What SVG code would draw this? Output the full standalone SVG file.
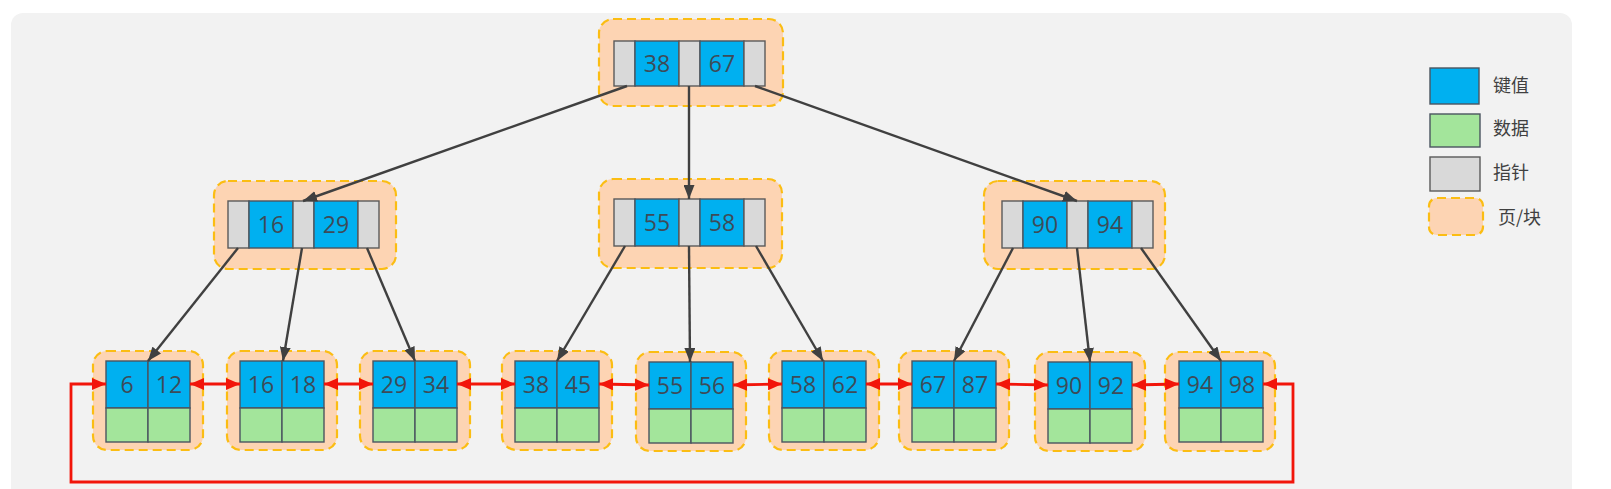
<svg xmlns="http://www.w3.org/2000/svg" width="1611" height="489" viewBox="0 0 1611 489">
<style>
.pg{fill:#fdd4b3;stroke:#fbbd13;stroke-width:2.2;stroke-dasharray:9 5}
.k{fill:#00b0f0;stroke:#4a5560;stroke-width:1.4}
.d{fill:#a3e59b;stroke:#4a5560;stroke-width:1.4}
.p{fill:#d9d9d9;stroke:#5a5a5a;stroke-width:1.4}
.t{font-family:"Open Sans","Noto Sans",sans-serif;font-size:23px;fill:#3d4b58;text-anchor:middle}
.lt{font-family:"Noto Sans CJK SC","Noto Sans",sans-serif;font-size:18px;fill:#404040}
.c{stroke:#404040;stroke-width:2.4;fill:none;marker-end:url(#ah)}
.r{stroke:#f2150a;stroke-width:2.8;fill:none;marker-end:url(#ar);marker-start:url(#ar)}
</style>
<defs>
<marker id="ah" viewBox="0 0 14 11" refX="14" refY="5.5" markerWidth="14" markerHeight="11" orient="auto" markerUnits="userSpaceOnUse"><path d="M0,0 L14,5.5 L0,11 z" fill="#404040"/></marker>
<marker id="ar" viewBox="0 0 14 12" refX="14" refY="6" markerWidth="14" markerHeight="12" orient="auto-start-reverse" markerUnits="userSpaceOnUse"><path d="M0,0 L14,6 L0,12 z" fill="#f2150a"/></marker>
</defs>
<rect width="1611" height="489" fill="#ffffff"/>
<rect x="11" y="13" width="1561" height="500" rx="12" fill="#f2f2f2"/>

<g id="root">
<rect class="pg" x="599" y="19" width="184" height="87" rx="14"/>
<rect class="p" x="614" y="41" width="21" height="45"/>
<rect class="k" x="635" y="41" width="44" height="45"/>
<rect class="p" x="679" y="41" width="21" height="45"/>
<rect class="k" x="700" y="41" width="44" height="45"/>
<rect class="p" x="744" y="41" width="21" height="45"/>
<text class="t" x="657" y="71.5">38</text>
<text class="t" x="722" y="71.5">67</text>
</g>

<g id="mid-left">
<rect class="pg" x="214" y="181" width="182" height="88" rx="14"/>
<rect class="p" x="228" y="201" width="21" height="47"/>
<rect class="k" x="249" y="201" width="44" height="47"/>
<rect class="p" x="293" y="201" width="21" height="47"/>
<rect class="k" x="314" y="201" width="44" height="47"/>
<rect class="p" x="358" y="201" width="21" height="47"/>
<text class="t" x="271" y="232.5">16</text>
<text class="t" x="336" y="232.5">29</text>
</g>

<g id="mid-center">
<rect class="pg" x="599" y="179" width="183" height="89" rx="14"/>
<rect class="p" x="614" y="199" width="21" height="47"/>
<rect class="k" x="635" y="199" width="44" height="47"/>
<rect class="p" x="679" y="199" width="21" height="47"/>
<rect class="k" x="700" y="199" width="44" height="47"/>
<rect class="p" x="744" y="199" width="21" height="47"/>
<text class="t" x="657" y="230.5">55</text>
<text class="t" x="722" y="230.5">58</text>
</g>

<g id="mid-right">
<rect class="pg" x="984" y="181" width="181" height="88" rx="14"/>
<rect class="p" x="1002" y="201" width="21" height="47"/>
<rect class="k" x="1023" y="201" width="44" height="47"/>
<rect class="p" x="1067" y="201" width="21" height="47"/>
<rect class="k" x="1088" y="201" width="44" height="47"/>
<rect class="p" x="1132" y="201" width="21" height="47"/>
<text class="t" x="1045" y="232.5">90</text>
<text class="t" x="1110" y="232.5">94</text>
</g>

<g id="leaf1">
<rect class="pg" x="93" y="351" width="110" height="99" rx="14"/>
<rect class="k" x="106" y="361" width="42" height="47"/><rect class="k" x="148" y="361" width="42" height="47"/>
<rect class="d" x="106" y="408" width="42" height="34"/><rect class="d" x="148" y="408" width="42" height="34"/>
<text class="t" x="127" y="392.5">6</text><text class="t" x="169" y="392.5">12</text>
</g>
<g id="leaf2">
<rect class="pg" x="227" y="351" width="110" height="99" rx="14"/>
<rect class="k" x="240" y="361" width="42" height="47"/><rect class="k" x="282" y="361" width="42" height="47"/>
<rect class="d" x="240" y="408" width="42" height="34"/><rect class="d" x="282" y="408" width="42" height="34"/>
<text class="t" x="261" y="392.5">16</text><text class="t" x="303" y="392.5">18</text>
</g>
<g id="leaf3">
<rect class="pg" x="360" y="351" width="110" height="99" rx="14"/>
<rect class="k" x="373" y="361" width="42" height="47"/><rect class="k" x="415" y="361" width="42" height="47"/>
<rect class="d" x="373" y="408" width="42" height="34"/><rect class="d" x="415" y="408" width="42" height="34"/>
<text class="t" x="394" y="392.5">29</text><text class="t" x="436" y="392.5">34</text>
</g>
<g id="leaf4">
<rect class="pg" x="502" y="351" width="110" height="99" rx="14"/>
<rect class="k" x="515" y="361" width="42" height="47"/><rect class="k" x="557" y="361" width="42" height="47"/>
<rect class="d" x="515" y="408" width="42" height="34"/><rect class="d" x="557" y="408" width="42" height="34"/>
<text class="t" x="536" y="392.5">38</text><text class="t" x="578" y="392.5">45</text>
</g>
<g id="leaf5">
<rect class="pg" x="636" y="352" width="110" height="99" rx="14"/>
<rect class="k" x="649" y="362" width="42" height="47"/><rect class="k" x="691" y="362" width="42" height="47"/>
<rect class="d" x="649" y="409" width="42" height="34"/><rect class="d" x="691" y="409" width="42" height="34"/>
<text class="t" x="670" y="393.5">55</text><text class="t" x="712" y="393.5">56</text>
</g>
<g id="leaf6">
<rect class="pg" x="769" y="351" width="110" height="99" rx="14"/>
<rect class="k" x="782" y="361" width="42" height="47"/><rect class="k" x="824" y="361" width="42" height="47"/>
<rect class="d" x="782" y="408" width="42" height="34"/><rect class="d" x="824" y="408" width="42" height="34"/>
<text class="t" x="803" y="392.5">58</text><text class="t" x="845" y="392.5">62</text>
</g>
<g id="leaf7">
<rect class="pg" x="899" y="351" width="110" height="99" rx="14"/>
<rect class="k" x="912" y="361" width="42" height="47"/><rect class="k" x="954" y="361" width="42" height="47"/>
<rect class="d" x="912" y="408" width="42" height="34"/><rect class="d" x="954" y="408" width="42" height="34"/>
<text class="t" x="933" y="392.5">67</text><text class="t" x="975" y="392.5">87</text>
</g>
<g id="leaf8">
<rect class="pg" x="1035" y="352" width="110" height="99" rx="14"/>
<rect class="k" x="1048" y="362" width="42" height="47"/><rect class="k" x="1090" y="362" width="42" height="47"/>
<rect class="d" x="1048" y="409" width="42" height="34"/><rect class="d" x="1090" y="409" width="42" height="34"/>
<text class="t" x="1069" y="393.5">90</text><text class="t" x="1111" y="393.5">92</text>
</g>
<g id="leaf9">
<rect class="pg" x="1165" y="352" width="110" height="99" rx="14"/>
<rect class="k" x="1179" y="361" width="42" height="47"/><rect class="k" x="1221" y="361" width="42" height="47"/>
<rect class="d" x="1179" y="408" width="42" height="34"/><rect class="d" x="1221" y="408" width="42" height="34"/>
<text class="t" x="1200" y="392.5">94</text><text class="t" x="1242" y="392.5">98</text>
</g>

<g id="connectors">
<line class="c" x1="627" y1="86" x2="303" y2="201"/>
<line class="c" x1="689" y1="86" x2="689" y2="199"/>
<line class="c" x1="755" y1="86" x2="1077" y2="201"/>
<line class="c" x1="238" y1="248" x2="148" y2="361"/>
<line class="c" x1="302" y1="248" x2="283" y2="361"/>
<line class="c" x1="367" y1="248" x2="415" y2="361"/>
<line class="c" x1="625" y1="246" x2="557" y2="361"/>
<line class="c" x1="689" y1="246" x2="690" y2="362"/>
<line class="c" x1="756" y1="246" x2="823" y2="361"/>
<line class="c" x1="1013" y1="248" x2="954" y2="361"/>
<line class="c" x1="1077" y1="248" x2="1090" y2="362"/>
<line class="c" x1="1141" y1="248" x2="1221" y2="361"/>
<line class="r" x1="190" y1="384" x2="240" y2="384"/>
<line class="r" x1="324" y1="384" x2="373" y2="384"/>
<line class="r" x1="457" y1="384" x2="515" y2="384"/>
<line class="r" x1="599" y1="384" x2="649" y2="385"/>
<line class="r" x1="733" y1="385" x2="782" y2="384"/>
<line class="r" x1="866" y1="384" x2="912" y2="384"/>
<line class="r" x1="996" y1="384" x2="1048" y2="385"/>
<line class="r" x1="1132" y1="385" x2="1179" y2="384"/>
<path class="r" d="M1263,384 L1293,384 L1293,482 L71,482 L71,384 L106,384"/>
</g>

<g id="legend">
<rect class="k" x="1430" y="68" width="49" height="36"/>
<rect class="d" x="1430" y="114" width="50" height="33"/>
<rect class="p" x="1430" y="157" width="50" height="34"/>
<rect class="pg" x="1429" y="198" width="54" height="37" rx="8"/>
<text class="lt" x="1493" y="91.5">键值</text>
<text class="lt" x="1493" y="135">数据</text>
<text class="lt" x="1493" y="179">指针</text>
<text class="lt" x="1498" y="224">页/块</text>
</g>
</svg>
